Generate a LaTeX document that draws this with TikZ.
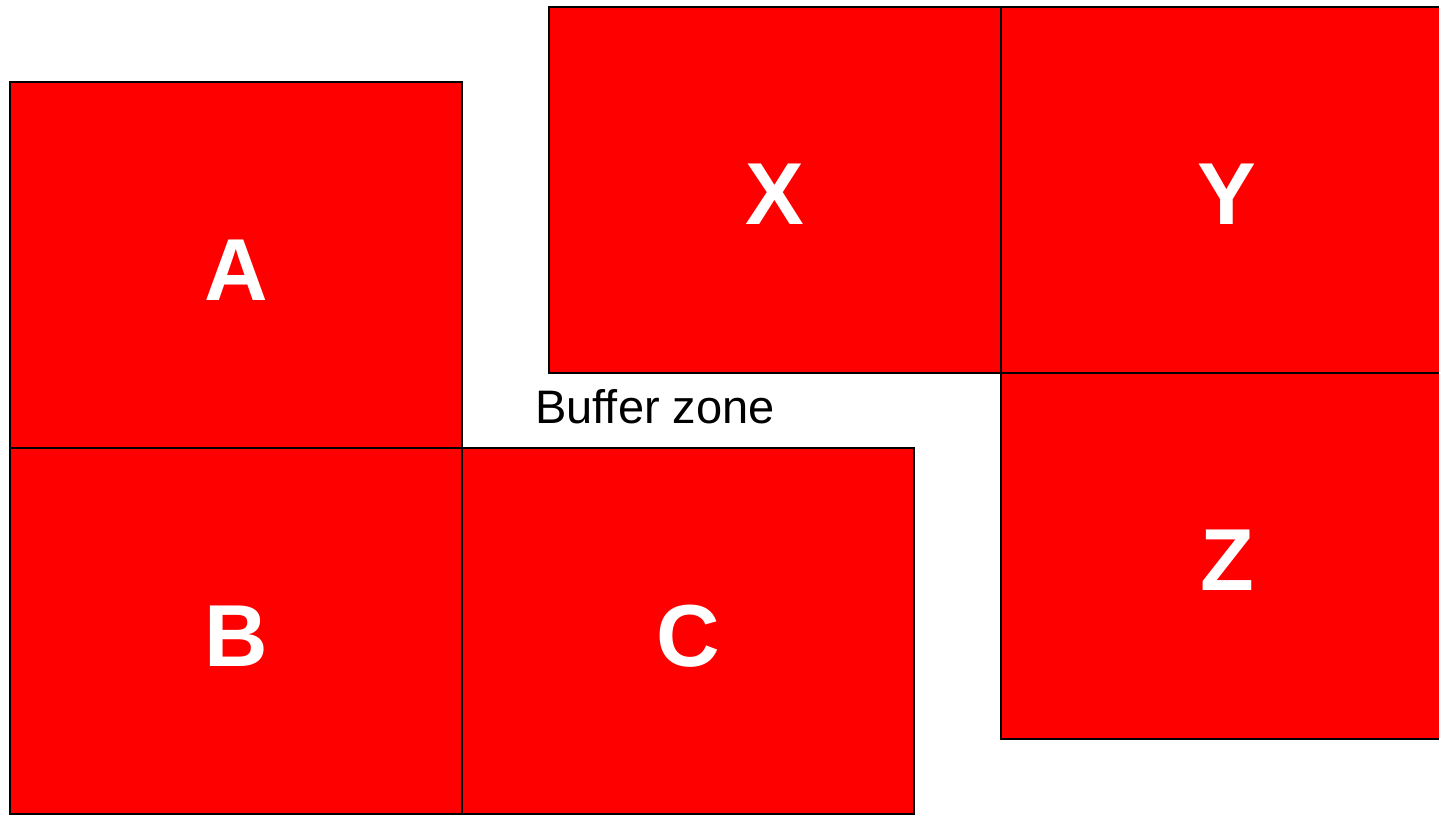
\documentclass[tikz,border=0pt]{standalone}
\usepackage{fontspec}
\setmainfont{Liberation Sans}
\usetikzlibrary{positioning}
\definecolor{zonered}{RGB}{255,0,0}

\begin{document}
\begin{tikzpicture}[x=1pt, y=-1pt,
  ZN/.style={draw=black, fill=zonered, line width=2pt, inner sep=0pt, outer sep=0pt,
             minimum width=452pt, minimum height=366pt, text height=70pt, text depth=0pt,
             text=white, font=\fontsize{88}{90}\selectfont\bfseries},
  LB/.style={font=\fontsize{47}{50}\selectfont, inner sep=0pt},
  node distance=0pt
]
  \clip (0,0) rectangle (1439,814);
  \useasboundingbox (0,0) rectangle (1439,814);

  \node[ZN] at (236,265)      (A) {A};
  \node[ZN,below=of A]        (B) {B};
  \node[ZN,right=of B]        (C) {C};
  \node[ZN] at (775,189.5)    (X) {X};
  \node[ZN,right=of X]        (Y) {Y};
  \node[ZN,below=of Y]        (Z) {Z};

  \node[LB] at (655,407) (buf) {Buffer zone};
\end{tikzpicture}
\end{document}
